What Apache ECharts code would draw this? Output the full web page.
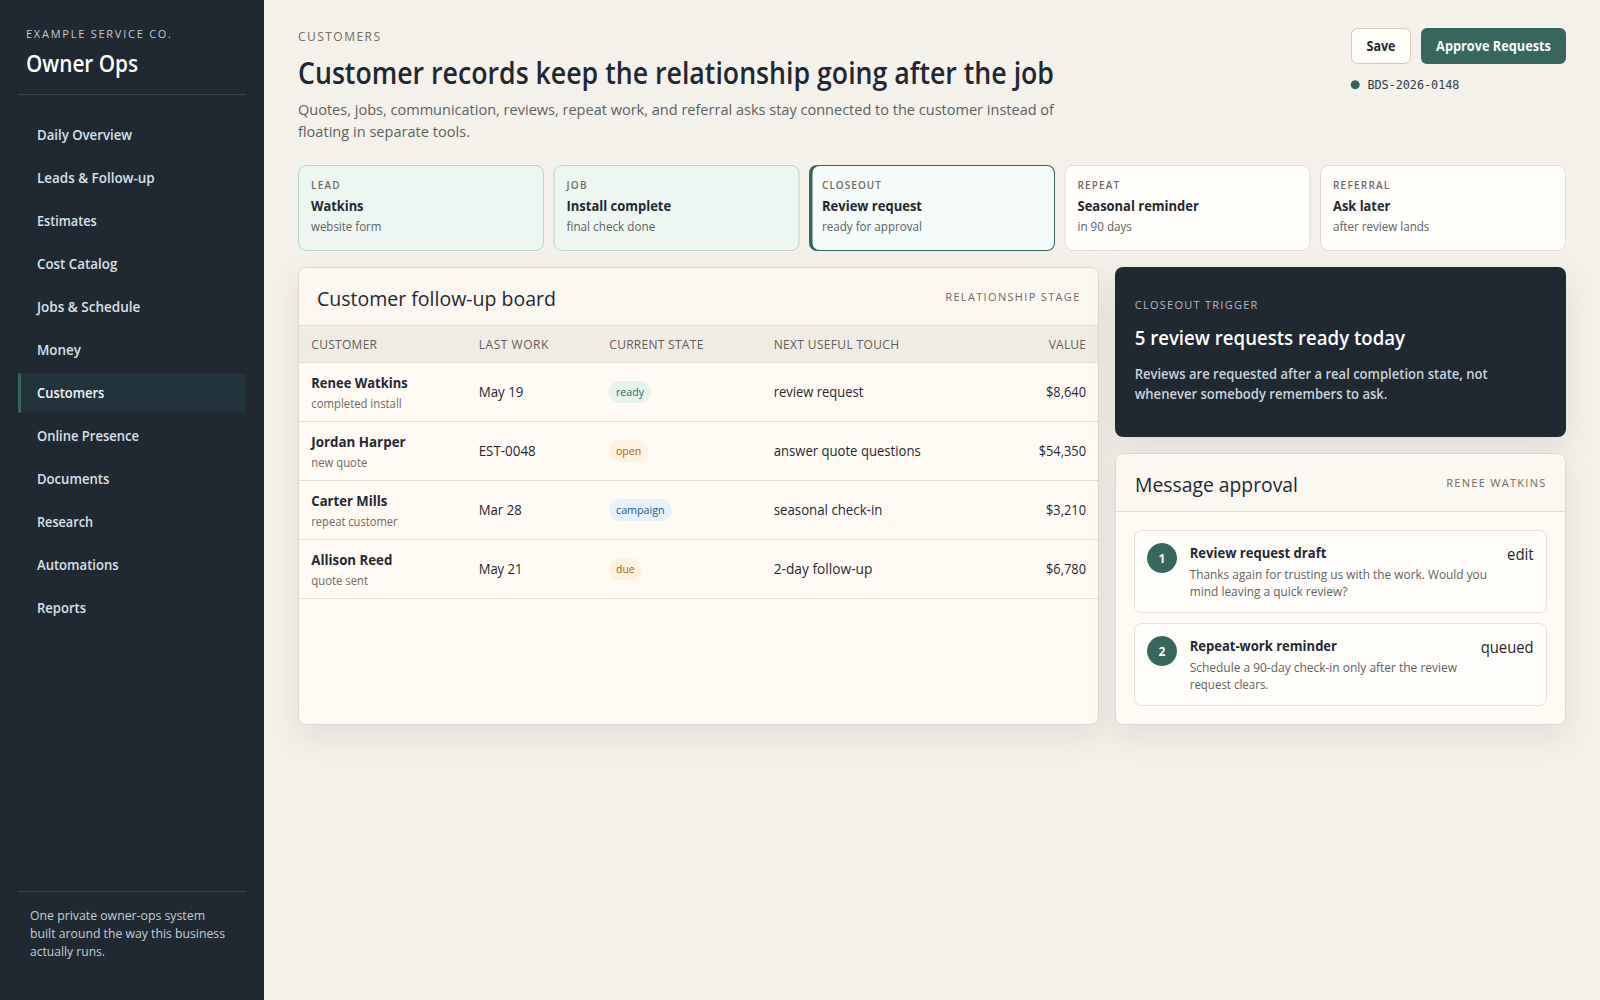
<!DOCTYPE html>
<html style="height: 100%">
<head>
    <meta charset="utf-8">
    <title>Owner Ops - Customers</title>
</head>
<body style="height: 100%; margin: 0; background: #f4f1ea">
<div id="container" style="width: 1600px; height: 1000px"></div>
<script type="text/javascript" src="https://cdn.jsdelivr.net/npm/echarts@6/dist/echarts.min.js"></script>
<script type="text/javascript">
    // page content
    var navItems = ['Daily Overview', 'Leads & Follow-up', 'Estimates', 'Cost Catalog', 'Jobs & Schedule', 'Money',
        'Customers', 'Online Presence', 'Documents', 'Research', 'Automations', 'Reports'];
    var activeNav = 'Customers';
    var footerLines = ['One private owner-ops system', 'built around the way this business', 'actually runs.'];
    var introLines = ['Quotes, jobs, communication, reviews, repeat work, and referral asks stay connected to the customer instead of',
        'floating in separate tools.'];

    var stageLabels = ['LEAD', 'JOB', 'CLOSEOUT', 'REPEAT', 'REFERRAL'];
    var stageTitles = ['Watkins', 'Install complete', 'Review request', 'Seasonal reminder', 'Ask later'];
    var stageNotes = ['website form', 'final check done', 'ready for approval', 'in 90 days', 'after review lands'];
    var stageStates = ['done', 'done', 'current', 'todo', 'todo'];

    var tableHeads = ['CUSTOMER', 'LAST WORK', 'CURRENT STATE', 'NEXT USEFUL TOUCH', 'VALUE'];
    var customers = ['Renee Watkins', 'Jordan Harper', 'Carter Mills', 'Allison Reed'];
    var customerNotes = ['completed install', 'new quote', 'repeat customer', 'quote sent'];
    var lastWork = ['May 19', 'EST-0048', 'Mar 28', 'May 21'];
    var states = ['ready', 'open', 'campaign', 'due'];
    var nextTouch = ['review request', 'answer quote questions', 'seasonal check-in', '2-day follow-up'];
    var values = [8640, 54350, 3210, 6780];

    var triggerLines = ['Reviews are requested after a real completion state, not', 'whenever somebody remembers to ask.'];
    var messageTitles = ['Review request draft', 'Repeat-work reminder'];
    var messageTags = ['edit', 'queued'];
    var messageBodies = [
        ['Thanks again for trusting us with the work. Would you', 'mind leaving a quick review?'],
        ['Schedule a 90-day check-in only after the review', 'request clears.']
    ];

    // widths the text was measured at in the reference, px
    var fitWidths = {
        'EXAMPLE SERVICE CO.': 145, 'Owner Ops': 112,
        'Daily Overview': 95, 'Leads & Follow-up': 117.7, 'Estimates': 59.7, 'Cost Catalog': 80.3,
        'Jobs & Schedule': 103.3, 'Money': 44, 'Customers': 67.3, 'Online Presence': 102, 'Documents': 72.4,
        'Research': 56, 'Automations': 81.6, 'Reports': 49,
        'One private owner-ops system': 175, 'built around the way this business': 195, 'actually runs.': 75,
        'CUSTOMERS': 82, 'Customer records keep the relationship going after the job': 756,
        'Quotes, jobs, communication, reviews, repeat work, and referral asks stay connected to the customer instead of': 756,
        'floating in separate tools.': 172,
        'LEAD': 28.6, 'JOB': 20, 'CLOSEOUT': 59, 'REPEAT': 41.7, 'REFERRAL': 56.3,
        'Watkins': 52.5, 'Install complete': 104.6, 'Review request': 100, 'Seasonal reminder': 121.3, 'Ask later': 57.4,
        'website form': 70.4, 'final check done': 88.8, 'ready for approval': 100, 'in 90 days': 54.3, 'after review lands': 96.4,
        'Save': 29, 'Approve Requests': 114.8, 'BDS-2026-0148': 92,
        'Customer follow-up board': 239, 'RELATIONSHIP STAGE': 134,
        'CUSTOMER': 65.7, 'LAST WORK': 69.7, 'CURRENT STATE': 94, 'NEXT USEFUL TOUCH': 125.3, 'VALUE': 37.3,
        'Renee Watkins': 96.3, 'Jordan Harper': 94.3, 'Carter Mills': 76, 'Allison Reed': 81,
        'completed install': 90.3, 'new quote': 56, 'repeat customer': 86.3, 'quote sent': 56.7,
        'May 19': 44.7, 'EST-0048': 57, 'Mar 28': 43, 'May 21': 43.7,
        'ready': 28, 'open': 25.3, 'campaign': 48.7, 'due': 18.7,
        'review request': 89.7, 'answer quote questions': 147, 'seasonal check-in': 108.7, '2-day follow-up': 98.7,
        '$8,640': 40, '$54,350': 47.3, '$3,210': 40, '$6,780': 40,
        'CLOSEOUT TRIGGER': 122.7, '5 review requests ready today': 270.3,
        'Reviews are requested after a real completion state, not': 353, 'whenever somebody remembers to ask.': 252.7,
        'Message approval': 163, 'RENEE WATKINS': 99,
        'Review request draft': 136.7, 'Repeat-work reminder': 147.3,
        'Thanks again for trusting us with the work. Would you': 297.3, 'mind leaving a quick review?': 157.7,
        'Schedule a 90-day check-in only after the review': 267.3, 'request clears.': 78.7,
        'edit': 26.7, 'queued': 53
    };
    // spaced caps labels: stretch the gaps, not the letters
    var trackedText = ['EXAMPLE SERVICE CO.', 'CUSTOMERS', 'LEAD', 'JOB', 'CLOSEOUT', 'REPEAT', 'REFERRAL', 'RELATIONSHIP STAGE',
        'CUSTOMER', 'LAST WORK', 'CURRENT STATE', 'NEXT USEFUL TOUCH', 'VALUE', 'CLOSEOUT TRIGGER', 'RENEE WATKINS'];

    var SANS = '"Open Sans", "Noto Sans", sans-serif';
    var INK = '#1f2731', NAVY = '#202832', GREEN = '#36665c', LINE = '#e2dcd1', MUTED = '#6f6b62';
    var pillColors = {
        ready: ['#e6f2ec', '#2f6a58'],
        open: ['#fff1df', '#a5640f'],
        campaign: ['#e6f1f9', '#255a85'],
        due: ['#fff1df', '#a5640f']
    };

    var els = [];

    function box(x, y, w, h, fill, r, extra) {
        var style = {fill: fill};
        if (extra) {
            for (var k in extra) style[k] = extra[k];
        }
        els.push({type: 'rect', silent: true, shape: {x: x, y: y, width: w, height: h, r: r || 0}, style: style});
    }

    // shadow goes on its own rect, the filter shifts the fill colour a little
    function shadowBox(x, y, w, h, r) {
        box(x, y, w, h, '#f4f1ea', r, {shadowBlur: 30, shadowOffsetY: 12, shadowColor: 'rgba(32,40,50,0.09)'});
    }

    function label(text, x, y, size, weight, color, align, family) {
        var w = fitWidths[text];
        // fitted text is laid out from its left edge
        if (w && align === 'right') { x -= w; align = 'left'; }
        if (w && align === 'center') { x -= w / 2; align = 'left'; }
        els.push({
            type: 'text', silent: true,
            style: {
                text: text, x: x, y: y, fill: color, fontSize: size, fontWeight: weight, fontFamily: family || SANS,
                textAlign: align || 'left', textVerticalAlign: 'middle'
            }
        });
    }

    function dollars(v) {
        return '$' + v.toLocaleString('en-US');
    }

    // sidebar
    box(0, 0, 264, 1000, NAVY);
    label('EXAMPLE SERVICE CO.', 26, 33, 11, 500, '#c3ccd3');
    label('Owner Ops', 26, 63, 23, 600, '#ffffff');
    box(18, 94, 228, 1, '#3a424b');
    navItems.forEach(function (item, i) {
        var cy = 135 + i * 43;
        if (item === activeNav) {
            box(18, cy - 19.5, 228, 39, '#22343b');
            box(18, cy - 19.5, 3, 39, GREEN);
        }
        label(item, 37, cy - 1, 14, 600, item === activeNav ? '#f2f6f8' : '#d8e2ea');
    });
    box(18, 891, 228, 1, '#3a424b');
    footerLines.forEach(function (line, i) {
        label(line, 30, 914.7 + i * 18.2, 13, 400, '#c5ced6');
    });

    // page head
    label('CUSTOMERS', 298, 36.7, 12, 500, MUTED);
    label('Customer records keep the relationship going after the job', 298, 71.5, 30.5, 600, INK);
    introLines.forEach(function (line, i) {
        label(line, 298, 109 + i * 22, 15, 500, '#5b5f60');
    });
    box(1351.5, 28.5, 59, 35, '#fffdf8', 6, {stroke: '#d2c9bc', lineWidth: 1});
    label('Save', 1381, 46, 13.5, 700, INK, 'center');
    box(1421, 28, 145, 36, GREEN, 6);
    label('Approve Requests', 1493.5, 46, 13.5, 700, '#f7fbf9', 'center');
    els.push({type: 'circle', silent: true, shape: {cx: 1355.2, cy: 84.7, r: 4.5}, style: {fill: GREEN}});
    label('BDS-2026-0148', 1367.4, 85, 12, 400, '#2f3a44', 'left', '"DejaVu Sans Mono", monospace');

    // stage strip
    stageLabels.forEach(function (stage, i) {
        var x = 298 + i * 255.5, w = 246, y = 165, h = 86, state = stageStates[i];
        if (state === 'current') {
            box(x, y, w, h, GREEN, 8);
            box(x + 3.5, y + 1, w - 4.5, h - 2, '#f5fbf8', 7);
        } else {
            box(x + 0.5, y + 0.5, w - 1, h - 1, state === 'done' ? '#eef6f2' : '#fffefa', 8,
                {stroke: state === 'done' ? '#b9d4c9' : '#e0dad0', lineWidth: 1});
        }
        label(stage, x + 13, 184.5, 10, 600, MUTED);
        label(stageTitles[i], x + 13, 205.5, 14, 700, INK);
        label(stageNotes[i], x + 13, 226, 12, 500, '#5d6163');
    });

    // follow-up board
    shadowBox(299, 268, 799, 456, 8);
    box(298.5, 267.5, 800, 457, '#fffbf4', 8, {stroke: '#ded8cc', lineWidth: 1});
    box(299, 268, 799, 57, '#fbf8f1', [8, 8, 0, 0]);
    label('Customer follow-up board', 317, 297.7, 20.5, 500, INK);
    label('RELATIONSHIP STAGE', 1079.3, 296.7, 11, 500, MUTED, 'right');
    box(299, 325, 799, 38, '#f0ece5');
    box(299, 325, 799, 1, LINE);
    box(299, 362, 799, 1, LINE);
    var headX = [311.3, 478.7, 609.3, 773.7];
    tableHeads.forEach(function (head, i) {
        if (i < 4) label(head, headX[i], 344.7, 12, 500, '#5f5c55');
        else label(head, 1086, 344.7, 12, 500, '#5f5c55', 'right');
    });
    customers.forEach(function (name, i) {
        var dy = i * 59, state = states[i], pill = pillColors[state];
        var pillW = fitWidths[state] + 14;
        label(name, 311.3, 382.3 + dy, 14, 700, INK);
        label(customerNotes[i], 311.3, 403 + dy, 12, 400, MUTED);
        label(lastWork[i], 478.7, 391.3 + dy, 14, 400, INK);
        box(609, 381 + dy, pillW, 22, pill[0], 11);
        label(state, 616, 391 + dy, 11, 500, pill[1]);
        label(nextTouch[i], 773.7, 391.3 + dy, 14, 400, INK);
        label(dollars(values[i]), 1086, 391.3 + dy, 14, 400, INK, 'right');
        box(299, 421 + dy, 799, 1, LINE);
    });

    // closeout trigger
    shadowBox(1115, 267, 451, 170, 8);
    box(1115, 267, 451, 170, NAVY, 8);
    label('CLOSEOUT TRIGGER', 1134.7, 304, 11, 500, '#b2bcc4');
    label('5 review requests ready today', 1134.7, 337.3, 20, 600, '#ffffff');
    triggerLines.forEach(function (line, i) {
        label(line, 1134.7, 373.3 + i * 20, 14, 600, '#ccd4db');
    });

    // message approval
    shadowBox(1116, 454, 449, 270, 8);
    box(1115.5, 453.5, 450, 271, '#fffbf4', 8, {stroke: '#ded8cc', lineWidth: 1});
    box(1116, 454, 449, 57, '#fbf8f1', [8, 8, 0, 0]);
    box(1116, 511, 449, 1, LINE);
    label('Message approval', 1135, 484, 20.5, 500, INK);
    label('RENEE WATKINS', 1545.3, 482, 11, 500, MUTED, 'right');
    messageTitles.forEach(function (title, i) {
        var dy = i * 93;
        box(1134.5, 530.5 + dy, 412, 82, '#fffefa', 7, {stroke: '#e6e0d6', lineWidth: 1});
        els.push({type: 'circle', silent: true, shape: {cx: 1162, cy: 558 + dy, r: 15}, style: {fill: GREEN}});
        label(String(i + 1), 1162, 558.5 + dy, 12, 700, '#ffffff', 'center');
        label(title, 1189.7, 553.3 + dy, 13.5, 700, INK);
        label(messageBodies[i][0], 1189.7, 574.7 + dy, 12.5, 400, '#5f6263');
        label(messageBodies[i][1], 1189.7, 591.7 + dy, 12.5, 400, '#5f6263');
        label(messageTags[i], 1533.7, 554 + dy, 15.5, 400, INK, 'right');
    });

    var myChart = echarts.init(document.getElementById('container'), null, {renderer: 'svg'});
    myChart.setOption({
        animation: false,
        backgroundColor: '#f4f1ea',
        graphic: {elements: els}
    });

    // squeeze every label to the width it has in the reference
    function fitText() {
        var nodes = document.querySelectorAll('#container svg text');
        for (var i = 0; i < nodes.length; i++) {
            var txt = nodes[i].textContent;
            if (fitWidths[txt]) {
                nodes[i].setAttribute('textLength', fitWidths[txt]);
                nodes[i].setAttribute('lengthAdjust', trackedText.indexOf(txt) >= 0 ? 'spacing' : 'spacingAndGlyphs');
            }
        }
    }
    fitText();
    myChart.on('finished', fitText);
</script>
</body>
</html>
